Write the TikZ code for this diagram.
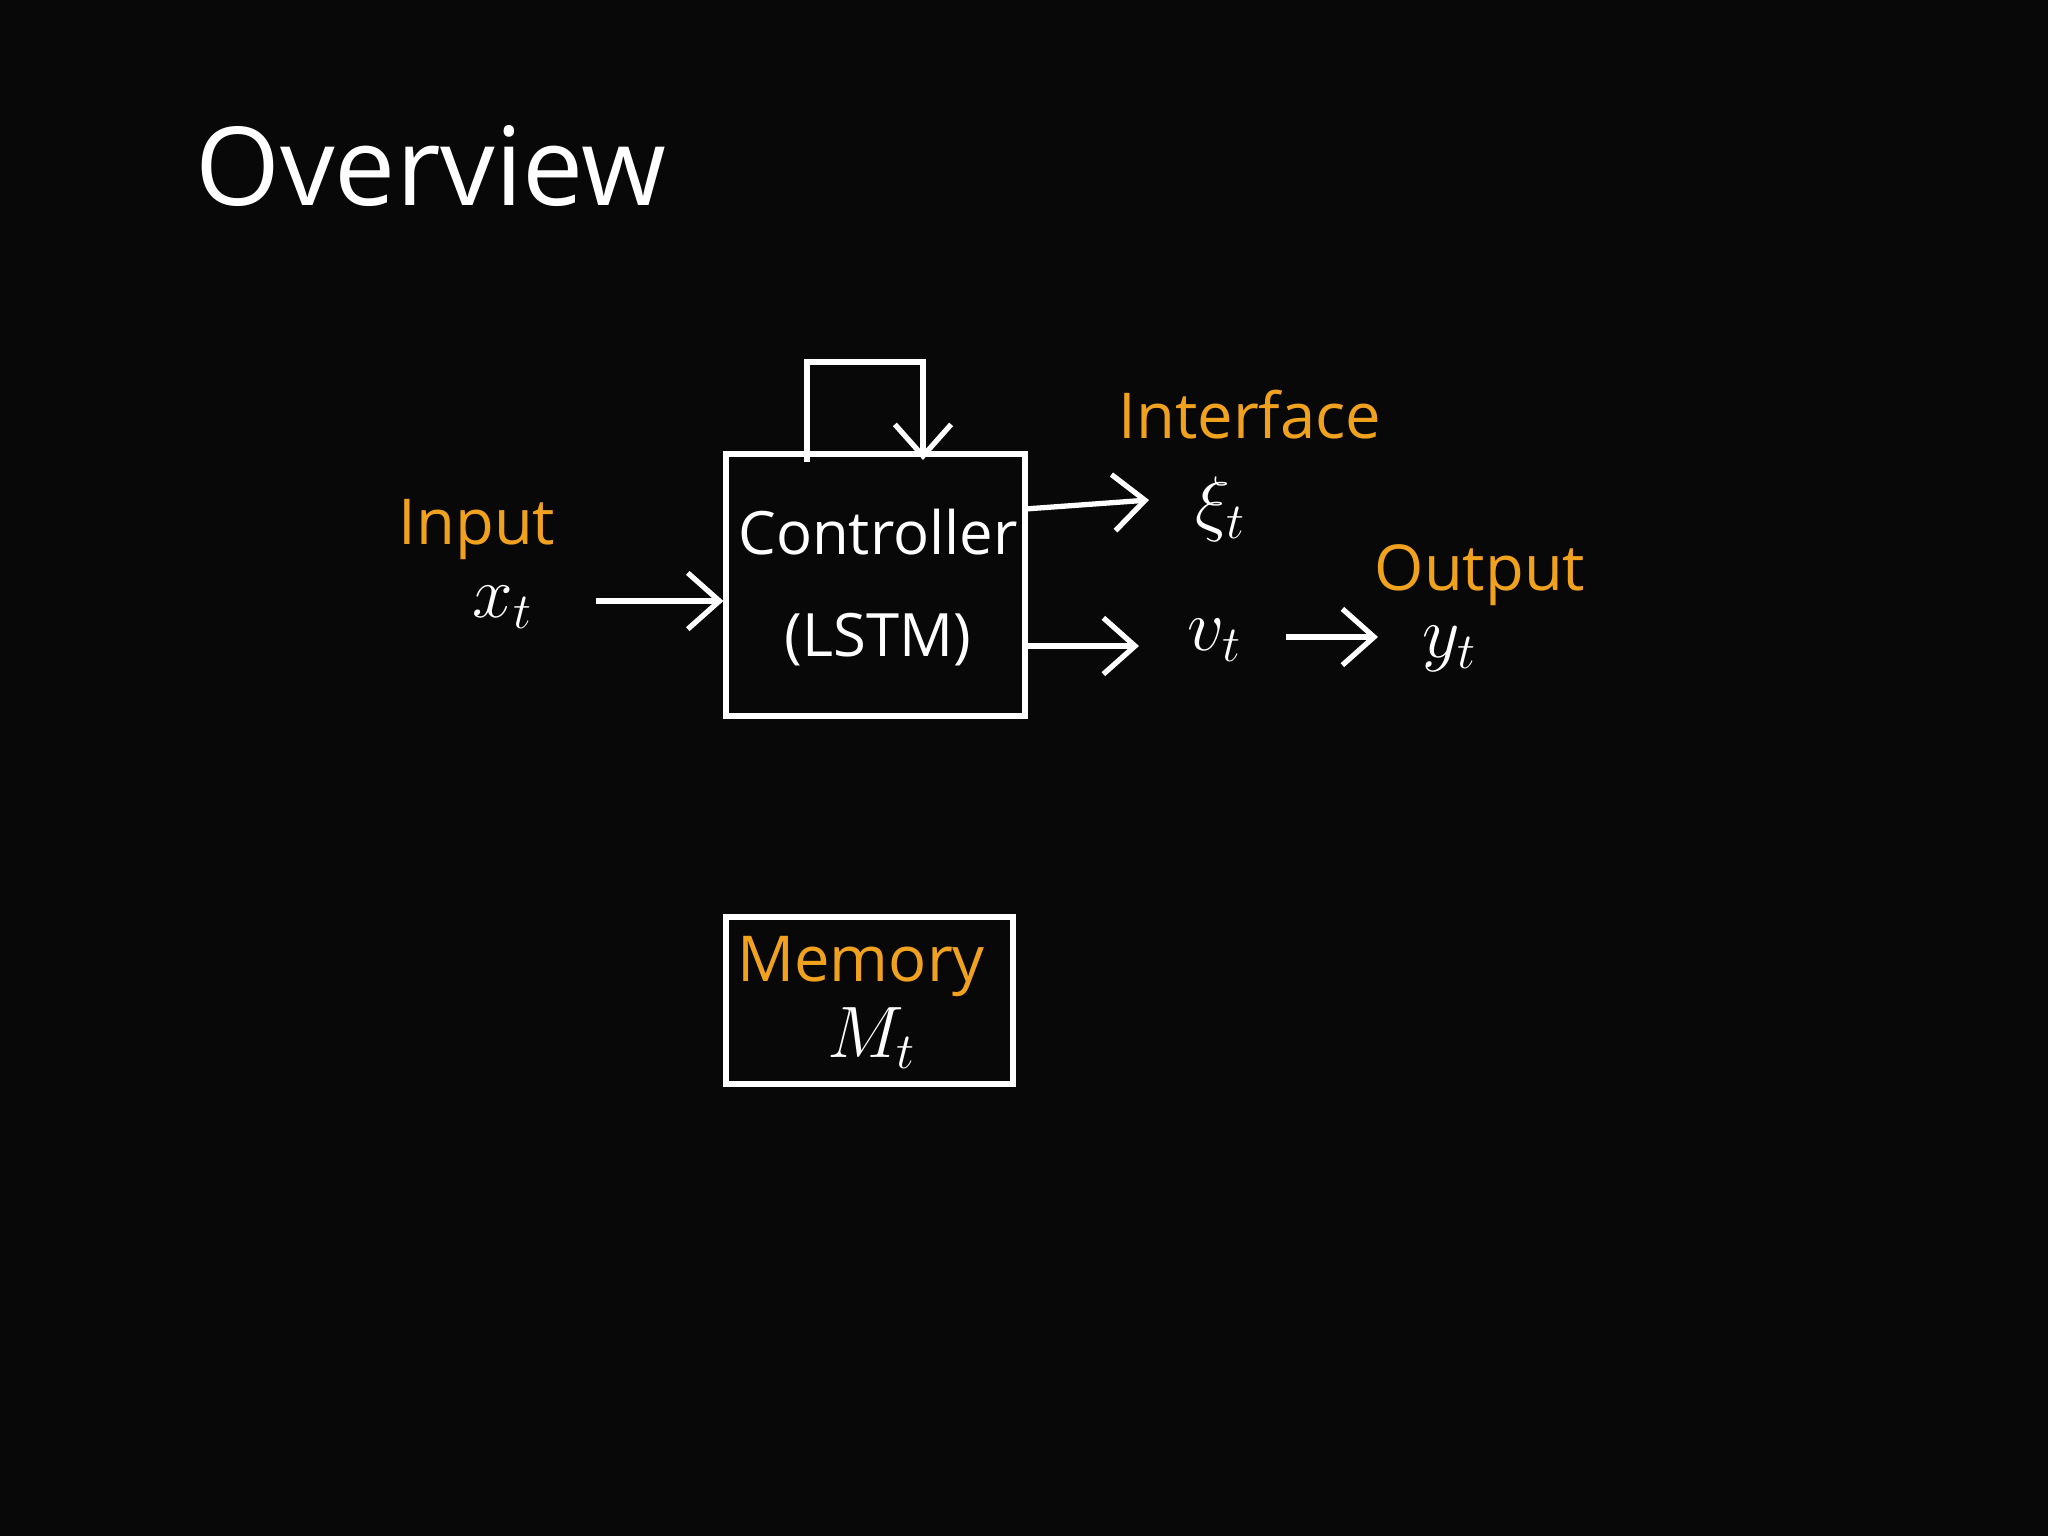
\documentclass[tikz,border=0pt]{standalone}
\usepackage{fontspec}
\setmainfont{Open Sans}
\usetikzlibrary{arrows.meta}
\definecolor{org}{RGB}{240,162,30}
\begin{document}
\begin{tikzpicture}[x=0.01cm,y=-0.01cm,
  lbl/.style={text=white,font=\fontsize{17}{20}\selectfont,inner sep=0},
  olbl/.style={text=org,font=\fontsize{18}{22}\selectfont,inner sep=0},
  wire/.style={draw=white,line width=1.5pt,-{Straight Barb[length=9pt,width=16pt]}},
  box/.style={draw=white,line width=1.5pt}]
\fill[black!97!white] (0,0) rectangle (2048,1536);
\useasboundingbox (0,0) rectangle (2048,1536);
\node[text=white,font=\fontsize{31}{36}\selectfont,inner sep=0] (title) at (431,166) {Overview};
\node[box,minimum width=299*0.01cm,minimum height=262*0.01cm] (ctrl) at (875.5,585) {};
\node[lbl] (c1) at (878,532) {Controller};
\node[lbl] (c2) at (878,640) {(LSTM)};
\coordinate (l1) at (807,462);
\coordinate (l2) at (807,362);
\coordinate (l3) at (923,362);
\coordinate (l4) at (923,460);
\draw[wire] (l1) -- (l2) -- (l3) -- (l4);
\node[olbl] (inl) at (477,529) {Input};
\node[lbl,font=\fontsize{20}{24}\selectfont] (x) at (503,607) {$x_t$};
\node[olbl] (ifl) at (1250,415) {Interface};
\node[lbl,font=\fontsize{20}{24}\selectfont] (xi) at (1221,509) {$\xi_t$};
\node[lbl,font=\fontsize{20}{24}\selectfont] (v) at (1215,640) {$v_t$};
\node[olbl] (outl) at (1480,575) {Output};
\node[lbl,font=\fontsize{20}{24}\selectfont] (y) at (1450,649) {$y_t$};
\coordinate (a1) at (596,601);
\draw[wire] (a1) -- (ctrl.west |- a1);
\coordinate (b1) at (1025,509);
\coordinate (b2) at (1149,500);
\draw[wire] (b1) -- (b2);
\coordinate (d1) at (1027,646);
\coordinate (d2) at (1139,646);
\draw[wire] (d1) -- (d2);
\coordinate (e1) at (1286,637);
\coordinate (e2) at (1378,637);
\draw[wire] (e1) -- (e2);
\node[box,minimum width=287*0.01cm,minimum height=167*0.01cm] (mem) at (869.5,1000.5) {};
\node[olbl] (m1) at (861,966) {Memory};
\node[lbl,font=\fontsize{20}{24}\selectfont] (m2) at (872,1038) {$M_t$};
\end{tikzpicture}
\end{document}
